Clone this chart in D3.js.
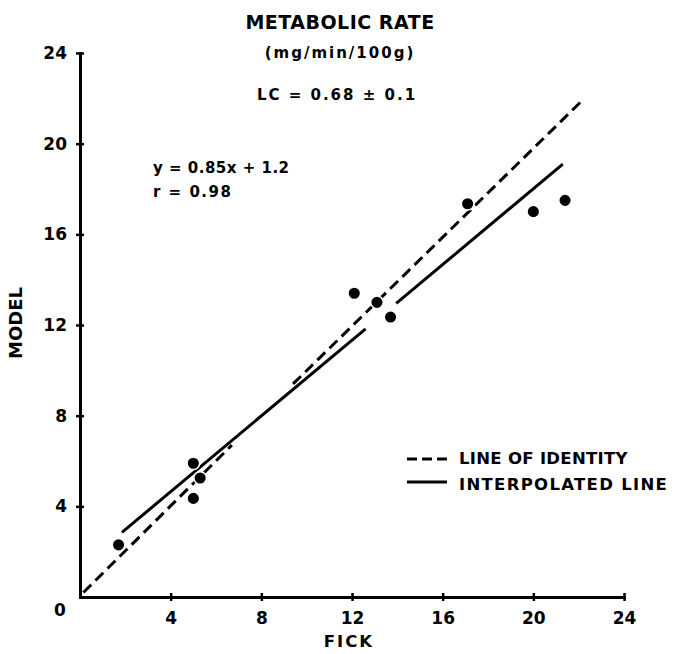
<!DOCTYPE html>
<meta charset="utf-8">
<script src="https://d3js.org/d3.v7.min.js"></script>
<body>
<div id="chart"></div>
<style>
 body { margin: 0; background: #fff; }
 text { font-family: 'DejaVu Sans', sans-serif; font-weight: bold; fill: #000; }
</style>
<script>
// measured points: FICK (x) against MODEL (y)
var fick  = [1.7, 5.0, 5.3, 5.0, 12.1, 13.1, 13.7, 17.1, 20.0, 21.4];
var model = [2.3, 5.9, 5.25, 4.35, 13.4, 13.0, 12.35, 17.35, 17.0, 17.5];

// line of identity, drawn in two pieces (it is left out where it meets the fit)
var identitySegs = [[[0.15, 0.2], [6.7, 6.7]], [[9.4, 9.4], [22.15, 21.9]]];
// interpolated line as drawn, broken near the points at x = 13
var fitSegs = [[[1.85, 2.85], [12.6, 11.83]], [[13.95, 12.95], [21.3, 19.1]]];

var xTicks = [4, 8, 12, 16, 20, 24];
var yTicks = [4, 8, 12, 16, 20, 24];

var W = 674, H = 654;
var x = d3.scaleLinear().domain([0, 24]).range([80, 624]);
var y = d3.scaleLinear().domain([0, 24]).range([597, 53]);

var svg = d3.select("#chart").append("svg")
    .attr("width", W)
    .attr("height", H);

// axes, ticks cross the axis line
var xAxis = svg.append("g")
    .attr("transform", "translate(0," + y(0) + ")")
    .call(d3.axisBottom(x).tickValues(xTicks).tickSizeInner(4).tickSizeOuter(0).tickPadding(11));
var yAxis = svg.append("g")
    .attr("transform", "translate(" + x(0) + ",0)")
    .call(d3.axisLeft(y).tickValues(yTicks).tickSizeInner(4).tickSizeOuter(0).tickPadding(9));
xAxis.selectAll(".tick line").attr("y1", -4);
yAxis.selectAll(".tick line").attr("x1", 4);

[xAxis, yAxis].forEach(function(g) {
  g.attr("font-family", null).attr("font-size", null);
  g.select(".domain").attr("stroke", "#000").attr("stroke-width", 3).attr("stroke-linecap", "square");
  g.selectAll(".tick line").attr("stroke", "#000").attr("stroke-width", 2.5);
  g.selectAll(".tick text").attr("font-size", 17).attr("fill", "#000");
});

// the lone zero at the corner
svg.append("text")
    .attr("x", x(0) - 20)
    .attr("y", y(0) + 19)
    .attr("text-anchor", "middle")
    .attr("font-size", 17)
    .text("0");

var line = d3.line()
    .x(function(d) { return x(d[0]); })
    .y(function(d) { return y(d[1]); });

svg.append("g").selectAll("path")
  .data(identitySegs)
  .enter().append("path")
    .attr("d", line)
    .attr("fill", "none")
    .attr("stroke", "#000")
    .attr("stroke-width", 3)
    .attr("stroke-dasharray", "11,6");

svg.append("g").selectAll("path")
  .data(fitSegs)
  .enter().append("path")
    .attr("d", line)
    .attr("fill", "none")
    .attr("stroke", "#000")
    .attr("stroke-width", 3);

// points
svg.append("g").selectAll("circle")
  .data(fick)
  .enter().append("circle")
    .attr("cx", function(d) { return x(d); })
    .attr("cy", function(d, i) { return y(model[i]); })
    .attr("r", 6.3)
    .attr("fill", "#000")
    .attr("stroke", "#fff")
    .attr("stroke-width", 1.5);

// titles and notes
function label(t, px, py, size, spacing, anchor) {
  return svg.append("text")
    .attr("x", px).attr("y", py)
    .attr("font-size", size)
    .attr("letter-spacing", spacing)
    .attr("text-anchor", anchor || "start")
    .text(t);
}
label("METABOLIC RATE", 340, 29, 19, 0.5, "middle");
label("(mg/min/100g)", 340, 58, 15, 2, "middle");
label("LC = 0.68 \u00b1 0.1", 337, 100, 15, 2, "middle");
label("y = 0.85x + 1.2", 153, 173, 15, 0.5);
label("r = 0.98", 153, 197, 15, 1.5);

// axis titles
svg.append("text")
    .attr("transform", "translate(22,323) rotate(-90)")
    .attr("text-anchor", "middle")
    .attr("font-size", 18)
    .text("MODEL");
label("FICK", 349, 647, 16.5, 2, "middle");

// legend
svg.append("line")
    .attr("x1", 407).attr("x2", 447).attr("y1", 459).attr("y2", 459)
    .attr("stroke", "#000").attr("stroke-width", 3)
    .attr("stroke-dasharray", "10,5");
svg.append("line")
    .attr("x1", 407).attr("x2", 447).attr("y1", 482).attr("y2", 482)
    .attr("stroke", "#000").attr("stroke-width", 3);
label("LINE OF IDENTITY", 459, 464, 16.5, 0.3);
label("INTERPOLATED LINE", 459, 490, 16.5, 1.3);
</script>
</body>
